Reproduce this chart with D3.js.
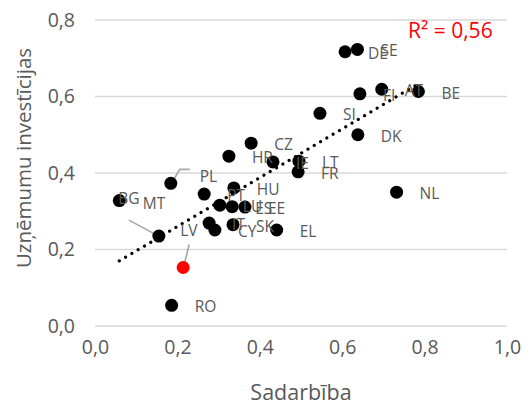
<!DOCTYPE html>
<html>
<head>
<meta charset="utf-8">
<script src="https://cdn.jsdelivr.net/npm/d3@7"></script>
<style>
  html, body { margin: 0; padding: 0; background: #fff; }
  svg { display: block; font-family: "Open Sans", sans-serif; }
</style>
</head>
<body>
<svg id="chart" width="532" height="407"></svg>
<script>
// ---- data ----
const countries = ["BE","BG","CZ","DK","DE","EE","IE","EL","ES","FR","HR","IT","CY","LV","LT","LU","HU","MT","NL","AT","PL","PT","RO","SI","SK","FI","SE"];
const sadarbiba = [0.785,0.059,0.379,0.638,0.607,0.364,0.432,0.441,0.333,0.493,0.325,0.277,0.291,0.214,0.495,0.303,0.337,0.155,0.732,0.696,0.184,0.265,0.186,0.546,0.335,0.643,0.637];
const investicijas = [0.613,0.328,0.478,0.500,0.717,0.311,0.429,0.251,0.312,0.403,0.444,0.269,0.251,0.153,0.431,0.316,0.361,0.235,0.350,0.619,0.373,0.345,0.054,0.556,0.265,0.607,0.723];
const highlighted = ["LV"];
const xTicks = [0, 0.2, 0.4, 0.6, 0.8, 1.0];
const yTicks = [0, 0.2, 0.4, 0.6, 0.8];
const xTitle = "Sadarbība";
const yTitle = "Uzņēmumu investīcijas";
const rSquared = 0.56;

// ---- layout ----
const svg = d3.select("#chart");
const x = d3.scaleLinear().domain([0, 1]).range([95, 507]);
const y = d3.scaleLinear().domain([0, 0.8]).range([326, 20]);
const fmt = d => d3.format(".1f")(d).replace(".", ",");

const points = countries.map((c, i) => ({ c, x: sadarbiba[i], y: investicijas[i] }));

// gridlines
svg.append("g").selectAll("line").data(yTicks).join("line")
  .attr("x1", x(0)).attr("x2", x(1))
  .attr("y1", d => y(d)).attr("y2", d => y(d))
  .attr("stroke", "#d9d9d9").attr("stroke-width", 1.3);

// y axis labels
const yAxis = d3.axisLeft(y).tickValues(yTicks).tickFormat(fmt).tickSize(0).tickPadding(20);
const gy = svg.append("g").attr("transform", `translate(${x(0)},0)`).call(yAxis);
gy.select(".domain").remove();
gy.selectAll("text").attr("font-size", 19.5).attr("fill", "#595959").attr("font-family", "Open Sans");

// x axis labels
const xAxis = d3.axisBottom(x).tickValues(xTicks).tickFormat(fmt).tickSize(0).tickPadding(14);
const gx = svg.append("g").attr("transform", `translate(0,${y(0)})`).call(xAxis);
gx.select(".domain").remove();
gx.selectAll("text").attr("font-size", 19.5).attr("fill", "#595959").attr("font-family", "Open Sans");

// axis titles
svg.append("text").attr("x", (x(0) + x(1)) / 2).attr("y", 400)
  .attr("text-anchor", "middle").attr("font-size", 21.5).attr("fill", "#595959").text(xTitle);
svg.append("text").attr("transform", `translate(31,${(y(0) + y(0.8)) / 2 - 15}) rotate(-90)`)
  .attr("text-anchor", "middle").attr("font-size", 20.5).attr("fill", "#595959").text(yTitle);

// trendline (least squares)
const mx = d3.mean(points, d => d.x), my = d3.mean(points, d => d.y);
const slope = d3.sum(points, d => (d.x - mx) * (d.y - my)) / d3.sum(points, d => (d.x - mx) ** 2);
const icpt = my - slope * mx;
const [xmin, xmax] = d3.extent(points, d => d.x);
svg.append("line")
  .attr("x1", x(xmin)).attr("y1", y(icpt + slope * xmin))
  .attr("x2", x(xmax)).attr("y2", y(icpt + slope * xmax))
  .attr("stroke", "#000").attr("stroke-width", 3.2)
  .attr("stroke-linecap", "round").attr("stroke-dasharray", "0.01 7.3");

// leader-line label overrides (pixel offsets from the point)
const special = {
  PL: { lx: 29, ly: -7, line: [[3, -4], [9, -14], [19, -14]] },
  MT: { lx: -16, ly: -33, line: [[0, 0], [-30, -16]] },
  BG: { lx: -1, ly: -3 },
  LV: { lx: -3, ly: -37, line: [[1, -3], [6, -23]] }
};

// leader lines
points.filter(d => special[d.c] && special[d.c].line).forEach(d => {
  const s = special[d.c];
  svg.append("path")
    .attr("d", d3.line()(s.line.map(p => [x(d.x) + p[0], y(d.y) + p[1]])))
    .attr("fill", "none").attr("stroke", "#a6a6a6").attr("stroke-width", 1.6);
});

// points
svg.append("g").selectAll("circle").data(points).join("circle")
  .attr("cx", d => x(d.x)).attr("cy", d => y(d.y)).attr("r", 6.5)
  .attr("fill", d => highlighted.includes(d.c) ? "#ff0000" : "#000");

// labels
svg.append("g").selectAll("text").data(points).join("text")
  .attr("x", d => x(d.x) + (special[d.c] ? special[d.c].lx : 23))
  .attr("y", d => y(d.y) + (special[d.c] ? special[d.c].ly : 1))
  .attr("dominant-baseline", "central")
  .attr("font-size", 15.5).attr("fill", "#595959")
  .text(d => d.c);

// R² label
svg.append("text").attr("x", 408).attr("y", 38)
  .attr("font-size", 21).attr("fill", "#ff0000")
  .text("R² = " + String(rSquared.toFixed(2)).replace(".", ","));
</script>
</body>
</html>
